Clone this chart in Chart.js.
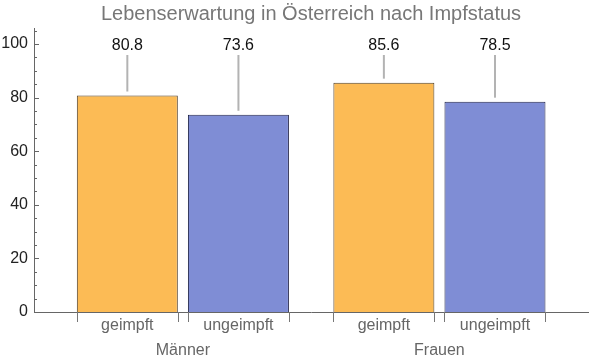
<!DOCTYPE html>
<html><head><meta charset="utf-8">
<script src="https://cdn.jsdelivr.net/npm/chart.js@4.4.1/dist/chart.umd.min.js"></script>
<style>html,body{margin:0;padding:0;background:#fff}#wrap{width:600px;height:359px;position:relative}</style>
</head><body><div id="wrap"><canvas id="c"></canvas></div>
<script>
const chartTitle = 'Lebenserwartung in Österreich nach Impfstatus';
const groups = ['Männer', 'Frauen'];
const statuses = ['geimpft', 'ungeimpft'];
const vaccinated = [80.8, 85.6];
const unvaccinated = [73.6, 78.5];
const yTicks = [0, 20, 40, 60, 80, 100];
const yMinorStep = 5;

const fillColors = ['#FCBB55', '#7F8DD5'];
const edgeColors = ['#4F3F2A', '#22254A'];
const innerGap = 0.1, groupGap = 0.44;
const FONT = '"Liberation Sans", Arial, sans-serif';

const points = [], tickLabels = [], bg = [], bd = [], groupOf = [];
let pos = 0;
groups.forEach((g, gi) => {
  [vaccinated, unvaccinated].forEach((series, si) => {
    points.push({x: pos, y: series[gi]});
    tickLabels.push(statuses[si]);
    bg.push(fillColors[si]); bd.push(edgeColors[si]); groupOf.push(gi);
    pos += 1 + innerGap;
  });
  pos += groupGap - innerGap;
});
const centers = points.map(p => p.x);

const decor = {
  id: 'decor',
  afterDraw(chart) {
    const ctx = chart.ctx, ca = chart.chartArea;
    const xs = chart.scales.x, ys = chart.scales.y;
    ctx.save();
    // title
    ctx.font = '20px ' + FONT;
    ctx.fillStyle = '#777';
    ctx.textAlign = 'center';
    ctx.textBaseline = 'alphabetic';
    ctx.fillText(chartTitle, (ca.left + ca.right) / 2, 20);
    // y ticks inward
    ctx.strokeStyle = '#666';
    ctx.lineWidth = 1;
    const yMax = ys.max;
    for (let v = 0; v <= yMax; v += yMinorStep) {
      const py = Math.round(ys.getPixelForValue(v)) + 0.5;
      const major = yTicks.includes(v);
      ctx.beginPath();
      ctx.moveTo(ca.left, py);
      ctx.lineTo(ca.left + (major ? 5 : 3), py);
      ctx.stroke();
    }
    // x edge ticks
    ctx.strokeStyle = '#777';
    centers.forEach(c => {
      [c - 0.5, c + 0.5].forEach(e => {
        const px = Math.round(xs.getPixelForValue(e)) + 0.5;
        ctx.beginPath();
        ctx.moveTo(px, ca.bottom);
        ctx.lineTo(px, ca.bottom + 10);
        ctx.stroke();
      });
    });
    // group labels
    ctx.font = '16px ' + FONT;
    ctx.fillStyle = '#666';
    groups.forEach((g, gi) => {
      const idx = groupOf.map((v, i) => v === gi ? i : -1).filter(i => i >= 0);
      const mid = (centers[idx[0]] + centers[idx[idx.length - 1]]) / 2;
      ctx.fillText(g, xs.getPixelForValue(mid), 355);
    });
    // value labels with leader lines
    const meta = chart.getDatasetMeta(0);
    meta.data.forEach((bar, i) => {
      ctx.fillStyle = '#111';
      ctx.font = '16px ' + FONT;
      ctx.fillText(points[i].y.toFixed(1), bar.x, 50);
      ctx.strokeStyle = '#b3b3b3';
      ctx.lineWidth = 2;
      ctx.beginPath();
      ctx.moveTo(bar.x, 55);
      ctx.lineTo(bar.x, bar.y - 4);
      ctx.stroke();
    });
    ctx.restore();
  }
};

new Chart(document.getElementById('c'), {
  type: 'bar',
  data: {
    datasets: [{
      data: points,
      backgroundColor: bg,
      borderColor: bd,
      borderWidth: 1,
      borderSkipped: 'start',
      barPercentage: 1 / (1 + innerGap),
      categoryPercentage: 1
    }]
  },
  options: {
    responsive: true,
    maintainAspectRatio: false,
    animation: false,
    layout: {padding: {top: 28, right: 12, bottom: 0, left: 0}},
    plugins: {legend: {display: false}, title: {display: false}, tooltip: {enabled: false}},
    scales: {
      x: {
        type: 'linear',
        offset: false,
        min: -0.924, max: 4.561,
        z: 1,
        grid: {display: false, drawTicks: false, offset: false},
        border: {display: true, color: '#666', width: 1},
        afterBuildTicks: s => { s.ticks = centers.map(v => ({value: v})); },
        afterFit: s => { s.height = 47; },
        ticks: {
          autoSkip: false, maxRotation: 0, padding: 4,
          color: '#666', font: {family: FONT, size: 16},
          callback: (v, i) => tickLabels[i]
        }
      },
      y: {
        min: 0, max: 106,
        grid: {display: false, drawTicks: false},
        border: {display: true, color: '#666', width: 1},
        afterBuildTicks: s => { s.ticks = yTicks.map(v => ({value: v})); },
        afterFit: s => { s.width = 34; },
        ticks: {padding: 6, color: '#222', font: {family: FONT, size: 16}}
      }
    }
  },
  plugins: [decor]
});
</script>
</body></html>
